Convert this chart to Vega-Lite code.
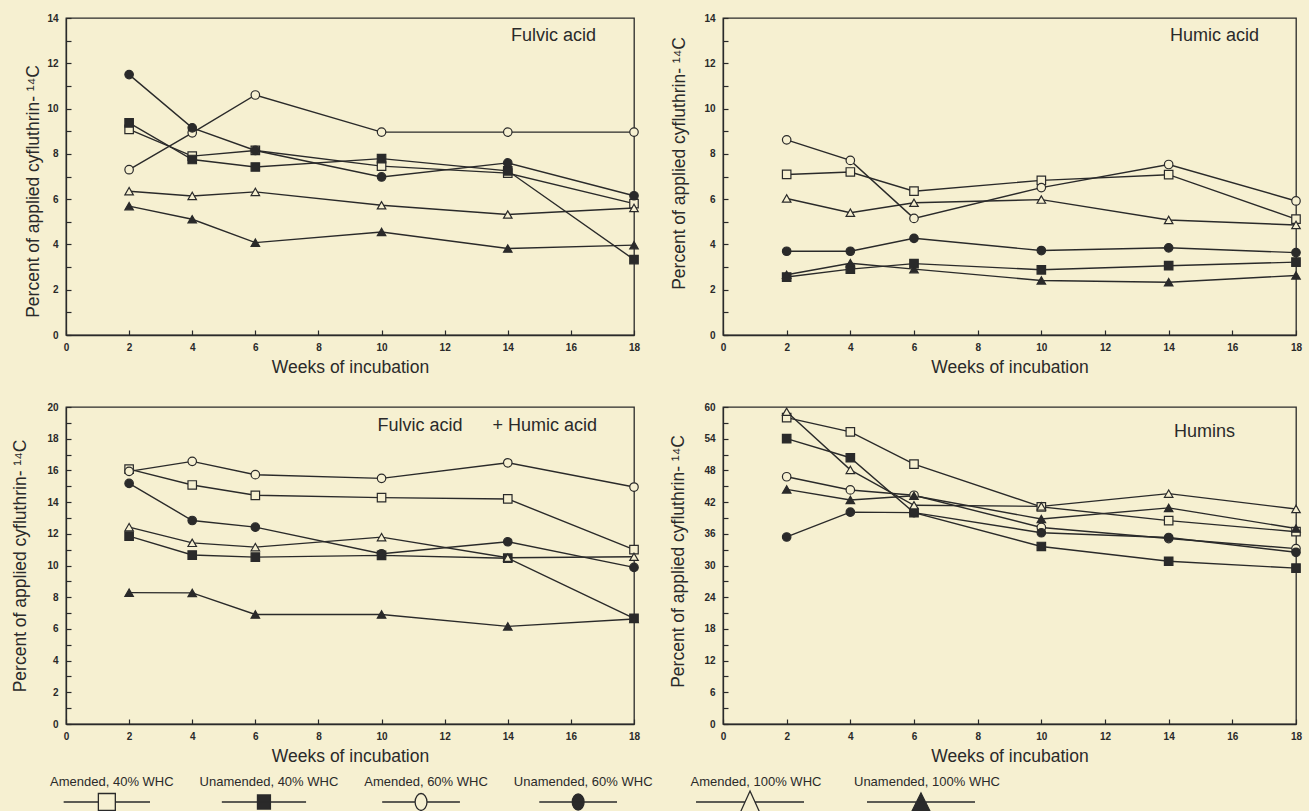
{
  "$schema": "https://vega.github.io/schema/vega-lite/v6.json",
  "background": "#f6f0d1",
  "padding": {"left": 11, "top": 12, "right": 5, "bottom": 0},
  "config": {
    "view": {"stroke": "#2a2a2a", "strokeWidth": 1.3},
    "axis": {"domainColor": "#2a2a2a", "domainWidth": 1.3, "tickColor": "#2a2a2a", "tickWidth": 1.2, "tickSize": -5, "labelColor": "#2a2a2a", "titleColor": "#2a2a2a", "labelFont": "Liberation Sans", "labelFontWeight": "bold", "labelFontSize": 10, "titleFont": "Liberation Sans", "titleFontSize": 17.5, "titleFontWeight": "normal", "grid": false, "labelFlush": false, "labelOverlap": false},
    "axisX": {"labelPadding": 12, "titlePadding": 6},
    "axisY": {"labelPadding": 13},
    "title": {"font": "Liberation Sans", "fontSize": 18, "fontWeight": "normal", "color": "#2a2a2a", "frame": "group", "anchor": "end", "orient": "top"}
  },
  "datasets": {
    "d": [
      {"panel": "FA", "series": "Amended, 40% WHC", "week": 2, "value": 9.08},
      {"panel": "FA", "series": "Amended, 40% WHC", "week": 4, "value": 7.9},
      {"panel": "FA", "series": "Amended, 40% WHC", "week": 6, "value": 8.15},
      {"panel": "FA", "series": "Amended, 40% WHC", "week": 10, "value": 7.46},
      {"panel": "FA", "series": "Amended, 40% WHC", "week": 14, "value": 7.15},
      {"panel": "FA", "series": "Amended, 40% WHC", "week": 18, "value": 5.8},
      {"panel": "FA", "series": "Unamended, 40% WHC", "week": 2, "value": 9.37},
      {"panel": "FA", "series": "Unamended, 40% WHC", "week": 4, "value": 7.75},
      {"panel": "FA", "series": "Unamended, 40% WHC", "week": 6, "value": 7.42},
      {"panel": "FA", "series": "Unamended, 40% WHC", "week": 10, "value": 7.79},
      {"panel": "FA", "series": "Unamended, 40% WHC", "week": 14, "value": 7.25},
      {"panel": "FA", "series": "Unamended, 40% WHC", "week": 18, "value": 3.33},
      {"panel": "FA", "series": "Amended, 60% WHC", "week": 2, "value": 7.3},
      {"panel": "FA", "series": "Amended, 60% WHC", "week": 4, "value": 8.93},
      {"panel": "FA", "series": "Amended, 60% WHC", "week": 6, "value": 10.6},
      {"panel": "FA", "series": "Amended, 60% WHC", "week": 10, "value": 8.96},
      {"panel": "FA", "series": "Amended, 60% WHC", "week": 14, "value": 8.96},
      {"panel": "FA", "series": "Amended, 60% WHC", "week": 18, "value": 8.96},
      {"panel": "FA", "series": "Unamended, 60% WHC", "week": 2, "value": 11.5},
      {"panel": "FA", "series": "Unamended, 60% WHC", "week": 4, "value": 9.15},
      {"panel": "FA", "series": "Unamended, 60% WHC", "week": 6, "value": 8.15},
      {"panel": "FA", "series": "Unamended, 60% WHC", "week": 10, "value": 6.98},
      {"panel": "FA", "series": "Unamended, 60% WHC", "week": 14, "value": 7.6},
      {"panel": "FA", "series": "Unamended, 60% WHC", "week": 18, "value": 6.15},
      {"panel": "FA", "series": "Amended, 100% WHC", "week": 2, "value": 6.35},
      {"panel": "FA", "series": "Amended, 100% WHC", "week": 4, "value": 6.14},
      {"panel": "FA", "series": "Amended, 100% WHC", "week": 6, "value": 6.32},
      {"panel": "FA", "series": "Amended, 100% WHC", "week": 10, "value": 5.73},
      {"panel": "FA", "series": "Amended, 100% WHC", "week": 14, "value": 5.32},
      {"panel": "FA", "series": "Amended, 100% WHC", "week": 18, "value": 5.61},
      {"panel": "FA", "series": "Unamended, 100% WHC", "week": 2, "value": 5.69},
      {"panel": "FA", "series": "Unamended, 100% WHC", "week": 4, "value": 5.11},
      {"panel": "FA", "series": "Unamended, 100% WHC", "week": 6, "value": 4.08},
      {"panel": "FA", "series": "Unamended, 100% WHC", "week": 10, "value": 4.55},
      {"panel": "FA", "series": "Unamended, 100% WHC", "week": 14, "value": 3.82},
      {"panel": "FA", "series": "Unamended, 100% WHC", "week": 18, "value": 3.97},

      {"panel": "HA", "series": "Amended, 40% WHC", "week": 2, "value": 7.09},
      {"panel": "HA", "series": "Amended, 40% WHC", "week": 4, "value": 7.2},
      {"panel": "HA", "series": "Amended, 40% WHC", "week": 6, "value": 6.35},
      {"panel": "HA", "series": "Amended, 40% WHC", "week": 10, "value": 6.83},
      {"panel": "HA", "series": "Amended, 40% WHC", "week": 14, "value": 7.08},
      {"panel": "HA", "series": "Amended, 40% WHC", "week": 18, "value": 5.12},
      {"panel": "HA", "series": "Unamended, 40% WHC", "week": 2, "value": 2.56},
      {"panel": "HA", "series": "Unamended, 40% WHC", "week": 4, "value": 2.91},
      {"panel": "HA", "series": "Unamended, 40% WHC", "week": 6, "value": 3.15},
      {"panel": "HA", "series": "Unamended, 40% WHC", "week": 10, "value": 2.88},
      {"panel": "HA", "series": "Unamended, 40% WHC", "week": 14, "value": 3.06},
      {"panel": "HA", "series": "Unamended, 40% WHC", "week": 18, "value": 3.22},
      {"panel": "HA", "series": "Amended, 60% WHC", "week": 2, "value": 8.62},
      {"panel": "HA", "series": "Amended, 60% WHC", "week": 4, "value": 7.71},
      {"panel": "HA", "series": "Amended, 60% WHC", "week": 6, "value": 5.15},
      {"panel": "HA", "series": "Amended, 60% WHC", "week": 10, "value": 6.51},
      {"panel": "HA", "series": "Amended, 60% WHC", "week": 14, "value": 7.53},
      {"panel": "HA", "series": "Amended, 60% WHC", "week": 18, "value": 5.92},
      {"panel": "HA", "series": "Unamended, 60% WHC", "week": 2, "value": 3.7},
      {"panel": "HA", "series": "Unamended, 60% WHC", "week": 4, "value": 3.7},
      {"panel": "HA", "series": "Unamended, 60% WHC", "week": 6, "value": 4.27},
      {"panel": "HA", "series": "Unamended, 60% WHC", "week": 10, "value": 3.73},
      {"panel": "HA", "series": "Unamended, 60% WHC", "week": 14, "value": 3.85},
      {"panel": "HA", "series": "Unamended, 60% WHC", "week": 18, "value": 3.64},
      {"panel": "HA", "series": "Amended, 100% WHC", "week": 2, "value": 6.03},
      {"panel": "HA", "series": "Amended, 100% WHC", "week": 4, "value": 5.4},
      {"panel": "HA", "series": "Amended, 100% WHC", "week": 6, "value": 5.84},
      {"panel": "HA", "series": "Amended, 100% WHC", "week": 10, "value": 5.98},
      {"panel": "HA", "series": "Amended, 100% WHC", "week": 14, "value": 5.08},
      {"panel": "HA", "series": "Amended, 100% WHC", "week": 18, "value": 4.86},
      {"panel": "HA", "series": "Unamended, 100% WHC", "week": 2, "value": 2.66},
      {"panel": "HA", "series": "Unamended, 100% WHC", "week": 4, "value": 3.17},
      {"panel": "HA", "series": "Unamended, 100% WHC", "week": 6, "value": 2.91},
      {"panel": "HA", "series": "Unamended, 100% WHC", "week": 10, "value": 2.41},
      {"panel": "HA", "series": "Unamended, 100% WHC", "week": 14, "value": 2.33},
      {"panel": "HA", "series": "Unamended, 100% WHC", "week": 18, "value": 2.63},

      {"panel": "FH", "series": "Amended, 40% WHC", "week": 2, "value": 16.08},
      {"panel": "FH", "series": "Amended, 40% WHC", "week": 4, "value": 15.08},
      {"panel": "FH", "series": "Amended, 40% WHC", "week": 6, "value": 14.43},
      {"panel": "FH", "series": "Amended, 40% WHC", "week": 10, "value": 14.28},
      {"panel": "FH", "series": "Amended, 40% WHC", "week": 14, "value": 14.2},
      {"panel": "FH", "series": "Amended, 40% WHC", "week": 18, "value": 11.0},
      {"panel": "FH", "series": "Unamended, 40% WHC", "week": 2, "value": 11.85},
      {"panel": "FH", "series": "Unamended, 40% WHC", "week": 4, "value": 10.66},
      {"panel": "FH", "series": "Unamended, 40% WHC", "week": 6, "value": 10.53},
      {"panel": "FH", "series": "Unamended, 40% WHC", "week": 10, "value": 10.64},
      {"panel": "FH", "series": "Unamended, 40% WHC", "week": 14, "value": 10.46},
      {"panel": "FH", "series": "Unamended, 40% WHC", "week": 18, "value": 6.67},
      {"panel": "FH", "series": "Amended, 60% WHC", "week": 2, "value": 15.94},
      {"panel": "FH", "series": "Amended, 60% WHC", "week": 4, "value": 16.57},
      {"panel": "FH", "series": "Amended, 60% WHC", "week": 6, "value": 15.73},
      {"panel": "FH", "series": "Amended, 60% WHC", "week": 10, "value": 15.5},
      {"panel": "FH", "series": "Amended, 60% WHC", "week": 14, "value": 16.48},
      {"panel": "FH", "series": "Amended, 60% WHC", "week": 18, "value": 14.95},
      {"panel": "FH", "series": "Unamended, 60% WHC", "week": 2, "value": 15.18},
      {"panel": "FH", "series": "Unamended, 60% WHC", "week": 4, "value": 12.84},
      {"panel": "FH", "series": "Unamended, 60% WHC", "week": 6, "value": 12.42},
      {"panel": "FH", "series": "Unamended, 60% WHC", "week": 10, "value": 10.74},
      {"panel": "FH", "series": "Unamended, 60% WHC", "week": 14, "value": 11.5},
      {"panel": "FH", "series": "Unamended, 60% WHC", "week": 18, "value": 9.88},
      {"panel": "FH", "series": "Amended, 100% WHC", "week": 2, "value": 12.42},
      {"panel": "FH", "series": "Amended, 100% WHC", "week": 4, "value": 11.43},
      {"panel": "FH", "series": "Amended, 100% WHC", "week": 6, "value": 11.16},
      {"panel": "FH", "series": "Amended, 100% WHC", "week": 10, "value": 11.79},
      {"panel": "FH", "series": "Amended, 100% WHC", "week": 14, "value": 10.49},
      {"panel": "FH", "series": "Amended, 100% WHC", "week": 18, "value": 10.55},
      {"panel": "FH", "series": "Unamended, 100% WHC", "week": 2, "value": 8.29},
      {"panel": "FH", "series": "Unamended, 100% WHC", "week": 4, "value": 8.27},
      {"panel": "FH", "series": "Unamended, 100% WHC", "week": 6, "value": 6.91},
      {"panel": "FH", "series": "Unamended, 100% WHC", "week": 10, "value": 6.91},
      {"panel": "FH", "series": "Unamended, 100% WHC", "week": 14, "value": 6.16},
      {"panel": "FH", "series": "Unamended, 100% WHC", "week": 18, "value": 6.62},

      {"panel": "HU", "series": "Amended, 40% WHC", "week": 2, "value": 58.0},
      {"panel": "HU", "series": "Amended, 40% WHC", "week": 4, "value": 55.3},
      {"panel": "HU", "series": "Amended, 40% WHC", "week": 6, "value": 49.2},
      {"panel": "HU", "series": "Amended, 40% WHC", "week": 10, "value": 41.1},
      {"panel": "HU", "series": "Amended, 40% WHC", "week": 14, "value": 38.5},
      {"panel": "HU", "series": "Amended, 40% WHC", "week": 18, "value": 36.4},
      {"panel": "HU", "series": "Unamended, 40% WHC", "week": 2, "value": 54.0},
      {"panel": "HU", "series": "Unamended, 40% WHC", "week": 4, "value": 50.4},
      {"panel": "HU", "series": "Unamended, 40% WHC", "week": 6, "value": 40.0},
      {"panel": "HU", "series": "Unamended, 40% WHC", "week": 10, "value": 33.6},
      {"panel": "HU", "series": "Unamended, 40% WHC", "week": 14, "value": 30.8},
      {"panel": "HU", "series": "Unamended, 40% WHC", "week": 18, "value": 29.5},
      {"panel": "HU", "series": "Amended, 60% WHC", "week": 2, "value": 46.8},
      {"panel": "HU", "series": "Amended, 60% WHC", "week": 4, "value": 44.3},
      {"panel": "HU", "series": "Amended, 60% WHC", "week": 6, "value": 43.3},
      {"panel": "HU", "series": "Amended, 60% WHC", "week": 10, "value": 37.2},
      {"panel": "HU", "series": "Amended, 60% WHC", "week": 14, "value": 35.1},
      {"panel": "HU", "series": "Amended, 60% WHC", "week": 18, "value": 33.2},
      {"panel": "HU", "series": "Unamended, 60% WHC", "week": 2, "value": 35.4},
      {"panel": "HU", "series": "Unamended, 60% WHC", "week": 4, "value": 40.1},
      {"panel": "HU", "series": "Unamended, 60% WHC", "week": 6, "value": 40.0},
      {"panel": "HU", "series": "Unamended, 60% WHC", "week": 10, "value": 36.2},
      {"panel": "HU", "series": "Unamended, 60% WHC", "week": 14, "value": 35.3},
      {"panel": "HU", "series": "Unamended, 60% WHC", "week": 18, "value": 32.5},
      {"panel": "HU", "series": "Amended, 100% WHC", "week": 2, "value": 59.1},
      {"panel": "HU", "series": "Amended, 100% WHC", "week": 4, "value": 48.1},
      {"panel": "HU", "series": "Amended, 100% WHC", "week": 6, "value": 41.4},
      {"panel": "HU", "series": "Amended, 100% WHC", "week": 10, "value": 41.2},
      {"panel": "HU", "series": "Amended, 100% WHC", "week": 14, "value": 43.6},
      {"panel": "HU", "series": "Amended, 100% WHC", "week": 18, "value": 40.7},
      {"panel": "HU", "series": "Unamended, 100% WHC", "week": 2, "value": 44.4},
      {"panel": "HU", "series": "Unamended, 100% WHC", "week": 4, "value": 42.4},
      {"panel": "HU", "series": "Unamended, 100% WHC", "week": 6, "value": 43.2},
      {"panel": "HU", "series": "Unamended, 100% WHC", "week": 10, "value": 38.8},
      {"panel": "HU", "series": "Unamended, 100% WHC", "week": 14, "value": 40.9},
      {"panel": "HU", "series": "Unamended, 100% WHC", "week": 18, "value": 37.0}
    ],
    "legendA": [
      {"series": "Amended, 40% WHC"},
      {"series": "Unamended, 40% WHC"},
      {"series": "Amended, 60% WHC"},
      {"series": "Unamended, 60% WHC"}
    ],
    "legendB": [
      {"series": "Amended, 100% WHC"},
      {"series": "Unamended, 100% WHC"}
    ]
  },
  "columns": 2,
  "bounds": "flush",
  "spacing": {"row": 72, "column": 89},
  "resolve": {"scale": {"x": "independent", "y": "independent", "shape": "independent", "fill": "independent"}},
  "concat": [
    {
      "width": 568, "height": 317,
      "title": {"text": "Fulvic acid", "offset": -32, "dx": -38},
      "data": {"name": "d"},
      "transform": [{"filter": "datum.panel === 'FA'"}],
      "encoding": {
        "x": {"field": "week", "type": "quantitative", "scale": {"domain": [0, 18], "nice": false}, "axis": {"values": [0, 2, 4, 6, 8, 10, 12, 14, 16, 18], "title": "Weeks of incubation"}},
        "y": {"field": "value", "type": "quantitative", "scale": {"domain": [0, 14], "nice": false}, "axis": {"values": [0, 1, 2, 3, 4, 5, 6, 7, 8, 9, 10, 11, 12, 13, 14], "labelExpr": "datum.value % 2 === 0 ? datum.label : ''", "title": "Percent of applied cyfluthrin- ¹⁴C", "titlePadding": 4, "titleY": 173}}
      },
      "layer": [
        {"mark": {"type": "line", "stroke": "#2a2a2a", "strokeWidth": 1.4}, "encoding": {"detail": {"field": "series"}}},
        {"mark": {"type": "point", "size": 72, "opacity": 1, "stroke": "#2a2a2a", "strokeWidth": 1.2},
         "encoding": {
           "shape": {"field": "series", "scale": {"domain": ["Amended, 40% WHC", "Unamended, 40% WHC", "Amended, 60% WHC", "Unamended, 60% WHC", "Amended, 100% WHC", "Unamended, 100% WHC"], "range": ["square", "square", "circle", "circle", "triangle-up", "triangle-up"]}, "legend": null},
           "fill": {"field": "series", "scale": {"domain": ["Amended, 40% WHC", "Unamended, 40% WHC", "Amended, 60% WHC", "Unamended, 60% WHC", "Amended, 100% WHC", "Unamended, 100% WHC"], "range": ["#f6f0d1", "#2a2a2a", "#f6f0d1", "#2a2a2a", "#f6f0d1", "#2a2a2a"]}, "legend": null}
         }}
      ]
    },
    {
      "width": 573, "height": 317,
      "title": {"text": "Humic acid", "offset": -32, "dx": -37},
      "data": {"name": "d"},
      "transform": [{"filter": "datum.panel === 'HA'"}],
      "encoding": {
        "x": {"field": "week", "type": "quantitative", "scale": {"domain": [0, 18], "nice": false}, "axis": {"values": [0, 2, 4, 6, 8, 10, 12, 14, 16, 18], "title": "Weeks of incubation"}},
        "y": {"field": "value", "type": "quantitative", "scale": {"domain": [0, 14], "nice": false}, "axis": {"values": [0, 1, 2, 3, 4, 5, 6, 7, 8, 9, 10, 11, 12, 13, 14], "labelExpr": "datum.value % 2 === 0 ? datum.label : ''", "title": "Percent of applied cyfluthrin- ¹⁴C", "titlePadding": 15, "titleY": 145}}
      },
      "layer": [
        {"mark": {"type": "line", "stroke": "#2a2a2a", "strokeWidth": 1.4}, "encoding": {"detail": {"field": "series"}}},
        {"mark": {"type": "point", "size": 72, "opacity": 1, "stroke": "#2a2a2a", "strokeWidth": 1.2},
         "encoding": {
           "shape": {"field": "series", "scale": {"domain": ["Amended, 40% WHC", "Unamended, 40% WHC", "Amended, 60% WHC", "Unamended, 60% WHC", "Amended, 100% WHC", "Unamended, 100% WHC"], "range": ["square", "square", "circle", "circle", "triangle-up", "triangle-up"]}, "legend": null},
           "fill": {"field": "series", "scale": {"domain": ["Amended, 40% WHC", "Unamended, 40% WHC", "Amended, 60% WHC", "Unamended, 60% WHC", "Amended, 100% WHC", "Unamended, 100% WHC"], "range": ["#f6f0d1", "#2a2a2a", "#f6f0d1", "#2a2a2a", "#f6f0d1", "#2a2a2a"]}, "legend": null}
         }}
      ]
    },
    {
      "width": 568, "height": 317,
      "title": {"text": "Fulvic acid\u00a0\u00a0\u00a0\u00a0\u00a0 + Humic acid", "offset": -33, "dx": -37},
      "data": {"name": "d"},
      "transform": [{"filter": "datum.panel === 'FH'"}],
      "encoding": {
        "x": {"field": "week", "type": "quantitative", "scale": {"domain": [0, 18], "nice": false}, "axis": {"values": [0, 2, 4, 6, 8, 10, 12, 14, 16, 18], "title": "Weeks of incubation"}},
        "y": {"field": "value", "type": "quantitative", "scale": {"domain": [0, 20], "nice": false}, "axis": {"values": [0, 1, 2, 3, 4, 5, 6, 7, 8, 9, 10, 11, 12, 13, 14, 15, 16, 17, 18, 19, 20], "labelExpr": "datum.value % 2 === 0 ? datum.label : ''", "title": "Percent of applied cyfluthrin- ¹⁴C", "titlePadding": 17}}
      },
      "layer": [
        {"mark": {"type": "line", "stroke": "#2a2a2a", "strokeWidth": 1.4}, "encoding": {"detail": {"field": "series"}}},
        {"mark": {"type": "point", "size": 72, "opacity": 1, "stroke": "#2a2a2a", "strokeWidth": 1.2},
         "encoding": {
           "shape": {"field": "series", "scale": {"domain": ["Amended, 40% WHC", "Unamended, 40% WHC", "Amended, 60% WHC", "Unamended, 60% WHC", "Amended, 100% WHC", "Unamended, 100% WHC"], "range": ["square", "square", "circle", "circle", "triangle-up", "triangle-up"]}, "legend": null},
           "fill": {"field": "series", "scale": {"domain": ["Amended, 40% WHC", "Unamended, 40% WHC", "Amended, 60% WHC", "Unamended, 60% WHC", "Amended, 100% WHC", "Unamended, 100% WHC"], "range": ["#f6f0d1", "#2a2a2a", "#f6f0d1", "#2a2a2a", "#f6f0d1", "#2a2a2a"]}, "legend": null}
         }}
      ]
    },
    {
      "width": 573, "height": 317,
      "title": {"text": "Humins", "offset": -39, "dx": -61},
      "data": {"name": "d"},
      "transform": [{"filter": "datum.panel === 'HU'"}],
      "encoding": {
        "x": {"field": "week", "type": "quantitative", "scale": {"domain": [0, 18], "nice": false}, "axis": {"values": [0, 2, 4, 6, 8, 10, 12, 14, 16, 18], "title": "Weeks of incubation"}},
        "y": {"field": "value", "type": "quantitative", "scale": {"domain": [0, 60], "nice": false}, "axis": {"values": [0, 3, 6, 9, 12, 15, 18, 21, 24, 27, 30, 33, 36, 39, 42, 45, 48, 51, 54, 57, 60], "labelExpr": "datum.value % 6 === 0 ? datum.label : ''", "title": "Percent of applied cyfluthrin- ¹⁴C", "titlePadding": 16, "titleY": 154}}
      },
      "layer": [
        {"mark": {"type": "line", "stroke": "#2a2a2a", "strokeWidth": 1.4}, "encoding": {"detail": {"field": "series"}}},
        {"mark": {"type": "point", "size": 72, "opacity": 1, "stroke": "#2a2a2a", "strokeWidth": 1.2},
         "encoding": {
           "shape": {"field": "series", "scale": {"domain": ["Amended, 40% WHC", "Unamended, 40% WHC", "Amended, 60% WHC", "Unamended, 60% WHC", "Amended, 100% WHC", "Unamended, 100% WHC"], "range": ["square", "square", "circle", "circle", "triangle-up", "triangle-up"]}, "legend": null},
           "fill": {"field": "series", "scale": {"domain": ["Amended, 40% WHC", "Unamended, 40% WHC", "Amended, 60% WHC", "Unamended, 60% WHC", "Amended, 100% WHC", "Unamended, 100% WHC"], "range": ["#f6f0d1", "#2a2a2a", "#f6f0d1", "#2a2a2a", "#f6f0d1", "#2a2a2a"]}, "legend": null}
         }}
      ]
    },
    {
      "width": 553, "height": 12,
      "view": {"stroke": null},
      "data": {"name": "legendA"},
      "encoding": {
        "x": {"field": "series", "type": "nominal", "sort": null, "scale": {"type": "point", "padding": 0.26}, "axis": null}
      },
      "layer": [
        {"mark": {"type": "text", "dy": -20, "dx": 5, "baseline": "middle", "font": "Liberation Sans", "fontSize": 13, "color": "#2a2a2a"}, "encoding": {"text": {"field": "series"}}},
        {"mark": {"type": "point", "size": 11664, "opacity": 1, "stroke": "#2a2a2a", "strokeWidth": 1.3},
         "encoding": {
           "shape": {"field": "series", "scale": {"domain": ["Amended, 40% WHC", "Unamended, 40% WHC", "Amended, 60% WHC", "Unamended, 60% WHC", "Amended, 100% WHC", "Unamended, 100% WHC"], "range": [
             "M-0.8,0H-0.157M0.157,0H0.8M-0.157,-0.157H0.157V0.157H-0.157Z",
             "M-0.78,0H0.78M-0.12,-0.13H0.12V0.13H-0.12Z",
             "M-0.72,0H-0.11M0.11,0H0.72M-0.11,0A0.11,0.157 0 1,0 0.11,0A0.11,0.157 0 1,0 -0.11,0Z",
             "M-0.72,0H0.72M-0.11,0A0.11,0.148 0 1,0 0.11,0A0.11,0.148 0 1,0 -0.11,0Z",
             "M-1,0H-0.0925M0.0925,0H1M0,-0.204L0.185,0.204H-0.185Z",
             "M-1,0H1M0,-0.167L0.194,0.222H-0.194Z"
           ]}, "legend": null},
           "fill": {"field": "series", "scale": {"domain": ["Amended, 40% WHC", "Unamended, 40% WHC", "Amended, 60% WHC", "Unamended, 60% WHC", "Amended, 100% WHC", "Unamended, 100% WHC"], "range": ["#f6f0d1", "#2a2a2a", "#f6f0d1", "#2a2a2a", "#f6f0d1", "#2a2a2a"]}, "legend": null}
         }}
      ]
    },
    {
      "width": 225, "height": 12,
      "view": {"stroke": null},
      "data": {"name": "legendB"},
      "encoding": {
        "x": {"field": "series", "type": "nominal", "sort": null, "scale": {"type": "point", "padding": 0.158}, "axis": null}
      },
      "layer": [
        {"mark": {"type": "text", "dy": -20, "dx": 6, "baseline": "middle", "font": "Liberation Sans", "fontSize": 13, "color": "#2a2a2a"}, "encoding": {"text": {"field": "series"}}},
        {"mark": {"type": "point", "size": 11664, "opacity": 1, "stroke": "#2a2a2a", "strokeWidth": 1.3},
         "encoding": {
           "shape": {"field": "series", "scale": {"domain": ["Amended, 40% WHC", "Unamended, 40% WHC", "Amended, 60% WHC", "Unamended, 60% WHC", "Amended, 100% WHC", "Unamended, 100% WHC"], "range": [
             "M-0.8,0H-0.157M0.157,0H0.8M-0.157,-0.157H0.157V0.157H-0.157Z",
             "M-0.78,0H0.78M-0.12,-0.13H0.12V0.13H-0.12Z",
             "M-0.72,0H-0.11M0.11,0H0.72M-0.11,0A0.11,0.157 0 1,0 0.11,0A0.11,0.157 0 1,0 -0.11,0Z",
             "M-0.72,0H0.72M-0.11,0A0.11,0.148 0 1,0 0.11,0A0.11,0.148 0 1,0 -0.11,0Z",
             "M-1,0H-0.0925M0.0925,0H1M0,-0.204L0.185,0.204H-0.185Z",
             "M-1,0H1M0,-0.167L0.194,0.222H-0.194Z"
           ]}, "legend": null},
           "fill": {"field": "series", "scale": {"domain": ["Amended, 40% WHC", "Unamended, 40% WHC", "Amended, 60% WHC", "Unamended, 60% WHC", "Amended, 100% WHC", "Unamended, 100% WHC"], "range": ["#f6f0d1", "#2a2a2a", "#f6f0d1", "#2a2a2a", "#f6f0d1", "#2a2a2a"]}, "legend": null}
         }}
      ]
    }
  ]
}
